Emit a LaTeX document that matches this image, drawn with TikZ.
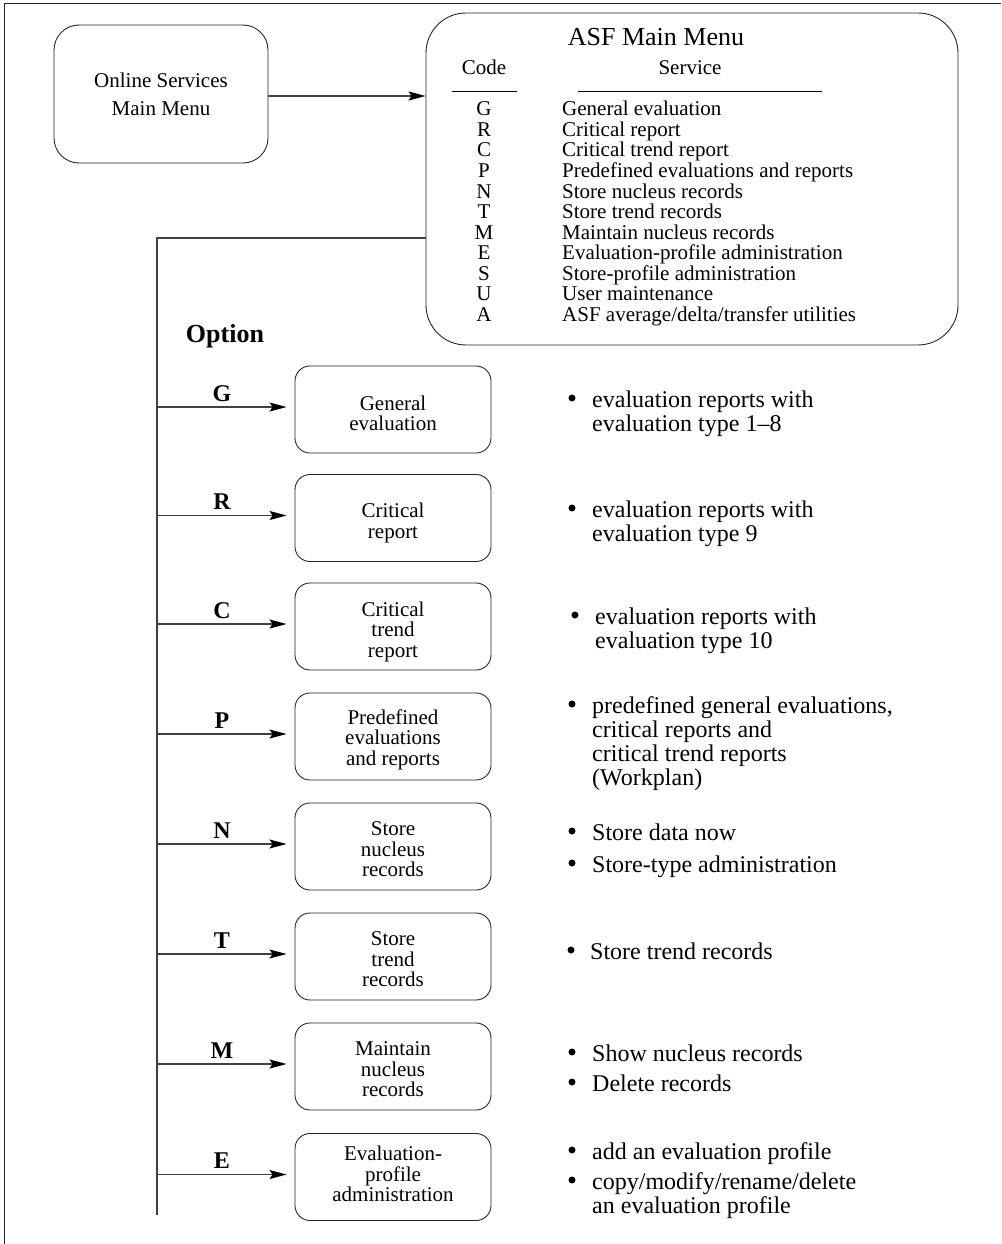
\documentclass[tikz,border=0pt]{standalone}
\usepackage{fontspec}
\setmainfont{Liberation Serif}
\usetikzlibrary{arrows.meta}
\begin{document}
\begin{tikzpicture}[x=1pt,y=-1pt,
  frame/.style={line width=1pt, black!85},
  wire/.style={line width=1.1pt, black!75},
  arr/.style={wire, -{Stealth[length=17pt,width=9pt,inset=3pt,black]}},
  bigbox/.style={draw=black!85, line width=0.9pt, rectangle, inner sep=0pt},
  optbox/.style={draw=black!85, line width=0.9pt, rectangle, rounded corners=15pt,
    minimum width=196pt, minimum height=87pt, inner sep=0pt},
  optlabel/.style={inner sep=0pt, align=center, font=\fontsize{21}{20.5}\selectfont},
  menutxt/.style={inner sep=0pt, font=\fontsize{21}{21}\selectfont},
  bultxt/.style={inner sep=0pt, anchor=base west, font=\fontsize{24}{24}\selectfont},
  bulmark/.style={circle, fill=black, inner sep=0pt, minimum size=7pt},
  codelab/.style={inner sep=0pt, anchor=base, font=\fontsize{24}{24}\selectfont\bfseries},
]
\useasboundingbox (0,0) rectangle (1001,1244);

% page frame (top and left edges)
\draw[frame] (4,1244) -- (4,4) -- (1001,4);

% top-level menus
\node[bigbox, rounded corners=25pt, minimum width=214pt, minimum height=138pt,
  align=center, font=\fontsize{21}{28}\selectfont] (online) at (161,94)
  {Online Services\\Main Menu};
\node[bigbox, rounded corners=40pt, minimum width=532pt, minimum height=332pt] (asf) at (692,179) {};

\draw[arr] ([yshift=-2pt]online.east) -- ([yshift=-2pt]online.east -| asf.west);

% ASF menu contents
\node[inner sep=0pt, anchor=base, font=\fontsize{26}{26}\selectfont] (asftitle) at (656,46) {ASF Main Menu};
\node[menutxt, anchor=base] (hcode) at (484,75) {Code};
\node[menutxt, anchor=base] (hservice) at (690,75) {Service};
\draw[line width=0.8pt] (452,91) -- (517,91);
\draw[line width=0.8pt] (578,91) -- (822,91);

\foreach \c/\s [count=\i from 0] in {
  G/{General evaluation},
  R/{Critical report},
  C/{Critical trend report},
  P/{Predefined evaluations and reports},
  N/{Store nucleus records},
  T/{Store trend records},
  M/{Maintain nucleus records},
  E/{Evaluation-profile administration},
  S/{Store-profile administration},
  U/{User maintenance},
  A/{ASF average/delta/transfer utilities}} {
  \node[menutxt, anchor=base] (mcode\c) at (484,116+20.5*\i) {\c};
  \node[menutxt, anchor=base west] (msvc\c) at (562,116+20.5*\i) {\s};
}

% option bus
\coordinate (bustop) at (157,238);
\coordinate (busend) at (157,1215);
\draw[wire] (bustop -| asf.west) -- (bustop) -- (busend);

\node[inner sep=0pt, anchor=base, font=\fontsize{26}{26}\selectfont\bfseries] (option) at (225,342) {Option};

% option boxes with their arrows and code letters
\foreach \c/\t/\y/\dy in {
  G/{General\\evaluation}/409.5/4,
  R/{Critical\\report}/518/5,
  C/{Critical\\trend\\report}/626.5/5,
  P/{Predefined\\evaluations\\and reports}/736.5/3,
  N/{Store\\nucleus\\records}/846.5/3,
  T/{Store\\trend\\records}/956.5/3,
  M/{Maintain\\nucleus\\records}/1066.5/3,
  E/{Evaluation-\\profile\\administration}/1177/-3} {
  \node[optbox] (box\c) at (393,\y) {};
  \node[optlabel] (txt\c) at (393,\y+\dy) {\t};
  \draw[arr] ([yshift=2.5pt]box\c.west -| bustop) -- ([yshift=2.5pt,xshift=-8pt]box\c.west);
  \node[codelab] (lab\c) at (222,\y-8.5) {\c};
}

% descriptions
\node[bulmark] (bG1) at (572,398) {};
\node[bultxt] (tG1) at (592,407) {evaluation reports with};
\node[bultxt] (tG2) at (592,431) {evaluation type 1–8};

\node[bulmark] (bR1) at (572,508) {};
\node[bultxt] (tR1) at (592,517) {evaluation reports with};
\node[bultxt] (tR2) at (592,541) {evaluation type 9};

\node[bulmark] (bC1) at (575,615) {};
\node[bultxt] (tC1) at (595,624) {evaluation reports with};
\node[bultxt] (tC2) at (595,648) {evaluation type 10};

\node[bulmark] (bP1) at (572,704) {};
\node[bultxt] (tP1) at (592,713) {predefined general evaluations,};
\node[bultxt] (tP2) at (592,737) {critical reports and};
\node[bultxt] (tP3) at (592,761) {critical trend reports};
\node[bultxt] (tP4) at (592,785) {(Workplan)};

\node[bulmark] (bN1) at (572,831) {};
\node[bultxt] (tN1) at (592,840) {Store data now};
\node[bulmark] (bN2) at (572,863) {};
\node[bultxt] (tN2) at (592,872) {Store-type administration};

\node[bulmark] (bT1) at (571,950) {};
\node[bultxt] (tT1) at (590,959) {Store trend records};

\node[bulmark] (bM1) at (572,1052) {};
\node[bultxt] (tM1) at (592,1061) {Show nucleus records};
\node[bulmark] (bM2) at (572,1082) {};
\node[bultxt] (tM2) at (592,1091) {Delete records};

\node[bulmark] (bE1) at (572,1150) {};
\node[bultxt] (tE1) at (592,1159) {add an evaluation profile};
\node[bulmark] (bE2) at (572,1180) {};
\node[bultxt] (tE2) at (592,1189) {copy/modify/rename/delete};
\node[bultxt] (tE3) at (592,1213) {an evaluation profile};
\end{tikzpicture}
\end{document}
